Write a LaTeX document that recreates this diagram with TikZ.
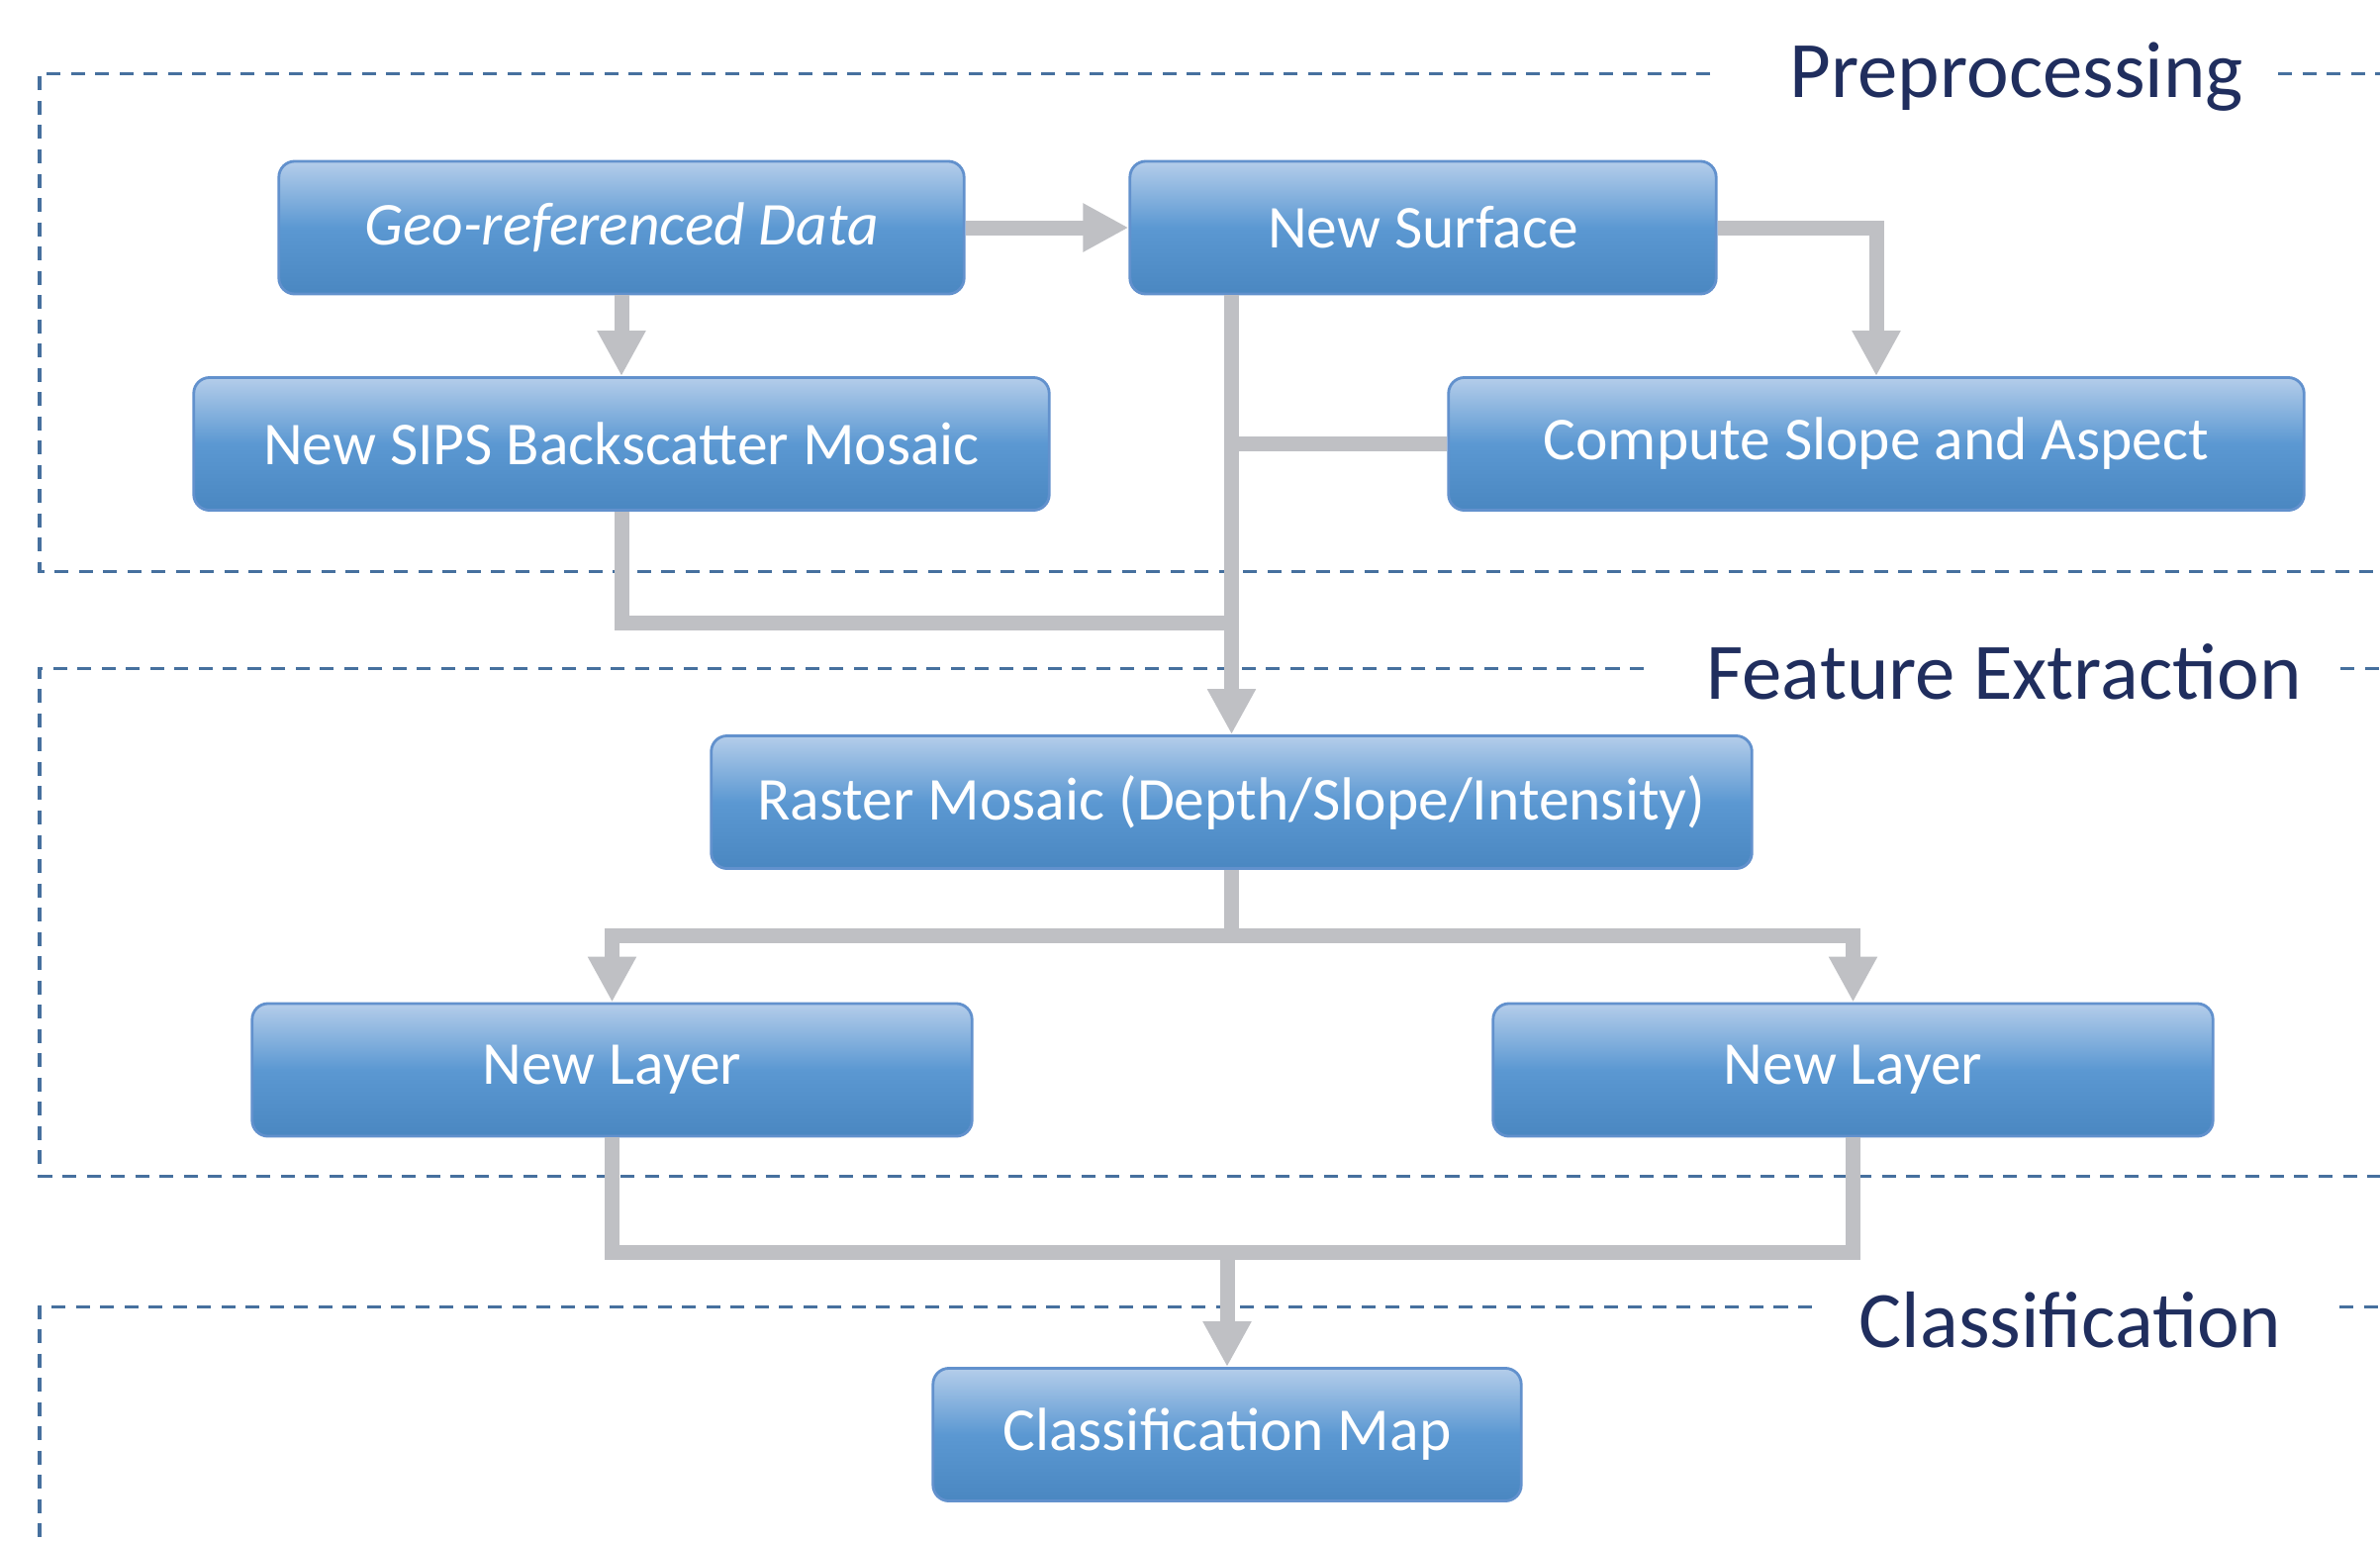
\documentclass[tikz,border=0pt]{standalone}
\usepackage{fontspec}
\setmainfont{Carlito}
\usetikzlibrary{arrows.meta}
\definecolor{boxtop}{RGB}{180,205,234}
\definecolor{boxmid}{RGB}{91,152,210}
\definecolor{boxbot}{RGB}{74,135,193}
\definecolor{boxline}{RGB}{98,145,205}
\definecolor{linkgray}{RGB}{191,192,196}
\definecolor{framecol}{RGB}{70,112,158}
\definecolor{titlecol}{RGB}{32,46,94}
\tikzset{
	procbox/.style={draw=boxline,line width=0.8pt,rounded corners=0.16cm,top color=boxtop,bottom color=boxbot,middle color=boxmid,text=white,minimum height=1.34cm,inner sep=0pt,font=\fontsize{17.5}{21}\selectfont},
	link/.style={draw=linkgray,line width=0.15cm},
	linkarrow/.style={link,-{Triangle[width=0.46cm,length=0.46cm]}},
	stageframe/.style={draw=framecol,line width=0.03cm,dash pattern=on 0.14cm off 0.105cm},
	stagetitle/.style={anchor=base west,inner sep=0pt,text=titlecol,font=\fontsize{23}{28}\selectfont},
}

\begin{document}
\begin{tikzpicture}[x=0.01cm,y=-0.01cm]
	\useasboundingbox (0,0) rectangle (2405,1557);
	
	% stage frames
	\foreach \ytop/\ybot/\xend/\xres in {74/577/1728/2302,675/1188/1661/2365,1320/1600/1831/2364}{
		\draw[stageframe] (\xend,\ytop) -- (40,\ytop) -- (40,\ybot) -- (2405,\ybot);
		\draw[stageframe] (\xres,\ytop) -- (2405,\ytop);
	}
	\node[stagetitle] (pretitle) at (1808,98) {Preprocessing};
	\node[stagetitle] (feattitle) at (1724,706) {Feature Extraction};
	\node[stagetitle] (clstitle) at (1878,1361) {Classification};
	
	% steps
	\node[procbox,minimum width=6.92cm] (geo) at (628,230) {\itshape Geo-referenced Data};
	\node[procbox,minimum width=5.92cm] (surf) at (1438,230) {New Surface};
	\node[procbox,minimum width=8.64cm] (sips) at (628,448.5) {New SIPS Backscatter Mosaic};
	\node[procbox,minimum width=8.64cm] (slope) at (1896,448.5) {Compute Slope and Aspect};
	\node[procbox,minimum width=10.51cm] (raster) at (1244.5,810.5) {Raster Mosaic (Depth/Slope/Intensity)};
	\node[procbox,minimum width=7.27cm] (layerL) at (618.5,1081) {New Layer};
	\node[procbox,minimum width=7.27cm] (layerR) at (1872.5,1081) {New Layer};
	\node[procbox,minimum width=5.94cm] (cmap) at (1240,1449.5) {Classification Map};
	
	% links
	\draw[linkarrow] (geo) -- (surf);
	\draw[linkarrow] (geo) -- (sips);
	\draw[linkarrow] (surf.east) -| (slope.north);
	\draw[linkarrow] (surf.south -| raster.north) -- (raster.north);
	\draw[link] (slope.west) -- (slope.west -| raster.north);
	\coordinate (joinA) at (1244.5,629);
	\draw[link] (sips.south) |- (joinA);
	\coordinate (splitB) at (1244.5,945);
	\draw[linkarrow] (raster.south) -- (splitB) -| (layerL.north);
	\draw[linkarrow] (raster.south) -- (splitB) -| (layerR.north);
	\coordinate (mergeC) at (1240,1265);
	\draw[link] (layerL.south) |- (mergeC);
	\draw[link] (layerR.south) |- (mergeC);
	\draw[linkarrow] (mergeC) -- (cmap.north);
\end{tikzpicture}
\end{document}
